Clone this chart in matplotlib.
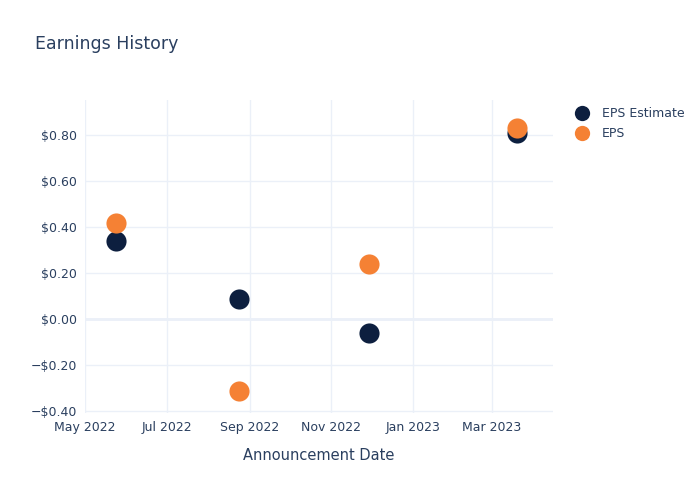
import numpy as np
import pandas as pd
import matplotlib.pyplot as plt
import matplotlib.dates as mdates
from matplotlib.ticker import FuncFormatter
from matplotlib.lines import Line2D

# dados
datas = pd.to_datetime(['2022-05-24', '2022-08-24', '2022-11-29', '2023-03-20'])
eps_estimate = [0.34, 0.09, -0.06, 0.81]
eps = [0.42, -0.31, 0.24, 0.83]

cor_texto = '#2a3f5f'
cor_grade = '#ebf0f8'
cor_estimate = '#0d1f3f'
cor_eps = '#f58134'

fig = plt.figure(figsize=(7, 5), dpi=100)
ax = fig.add_axes([0.1214, 0.174, 0.669, 0.626])

ax.scatter(datas, eps_estimate, s=210, color=cor_estimate, zorder=3, linewidths=0)
ax.scatter(datas, eps, s=210, color=cor_eps, zorder=4, linewidths=0)

ax.set_xlim(pd.Timestamp('2022-05-01'), pd.Timestamp('2023-04-16'))
ax.set_ylim(-0.407, 0.952)

ax.xaxis.set_major_locator(mdates.MonthLocator(bymonth=[1, 3, 5, 7, 9, 11]))
ax.xaxis.set_major_formatter(mdates.DateFormatter('%b %Y'))
ax.set_yticks([-0.4, -0.2, 0, 0.2, 0.4, 0.6, 0.8])
ax.yaxis.set_major_formatter(FuncFormatter(
    lambda v, p: ('\u2212$%.2f' % abs(v)) if v < -1e-9 else '$%.2f' % abs(v)))

ax.grid(True, color=cor_grade, linewidth=1, zorder=0)
ax.axhline(0, color=cor_grade, linewidth=2, zorder=1)
for s in ax.spines.values():
    s.set_visible(False)
ax.tick_params(length=0, labelsize=9, colors=cor_texto, pad=6)

ax.set_xlabel('Announcement Date', fontsize=10.5, color=cor_texto, labelpad=10)
fig.text(35 / 700, 1 - 44 / 500, 'Earnings History', fontsize=12.5,
         color=cor_texto, va='center', ha='left')

handles = [Line2D([], [], marker='o', linestyle='', markersize=11,
                  markerfacecolor=cor_estimate, markeredgewidth=0),
           Line2D([], [], marker='o', linestyle='', markersize=11,
                  markerfacecolor=cor_eps, markeredgewidth=0)]
leg = fig.legend(handles, ['EPS Estimate', 'EPS'], loc='upper left',
                 bbox_to_anchor=(568 / 700, 1 - 102 / 500), frameon=False,
                 fontsize=9, handletextpad=0.8, labelspacing=0.55,
                 borderaxespad=0, handlelength=1.5)
for t in leg.get_texts():
    t.set_color(cor_texto)

fig.savefig('out.png', dpi=100)
